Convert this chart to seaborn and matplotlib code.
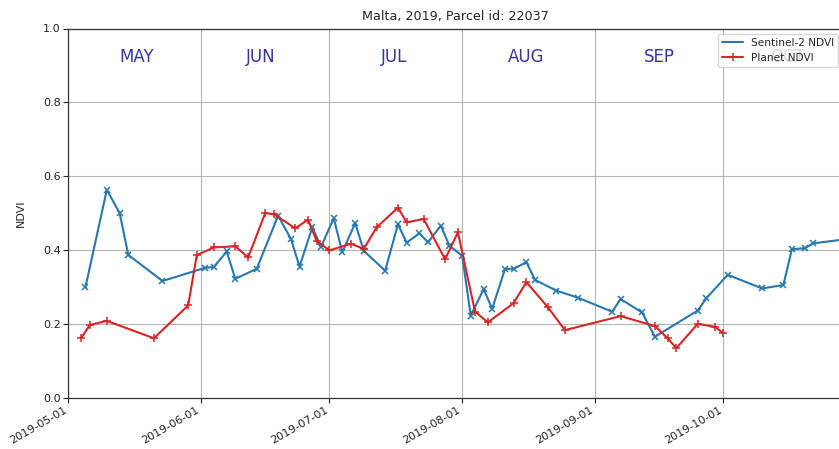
import matplotlib
matplotlib.use("Agg")
import matplotlib.pyplot as plt
import matplotlib.dates as mdates
import numpy as np
import pandas as pd
import seaborn as sns

# Sentinel-2 NDVI observations
s2_dates = [
    "2019-05-05", "2019-05-10", "2019-05-13", "2019-05-15", "2019-05-23",
    "2019-06-02", "2019-06-04", "2019-06-07", "2019-06-09", "2019-06-14",
    "2019-06-19", "2019-06-22", "2019-06-24", "2019-06-27", "2019-06-29",
    "2019-07-02", "2019-07-04", "2019-07-07", "2019-07-09", "2019-07-14",
    "2019-07-17", "2019-07-19", "2019-07-22", "2019-07-24", "2019-07-27",
    "2019-07-29", "2019-08-01", "2019-08-03", "2019-08-06", "2019-08-08",
    "2019-08-11", "2019-08-13", "2019-08-16", "2019-08-18", "2019-08-23",
    "2019-08-28", "2019-09-05", "2019-09-07", "2019-09-12", "2019-09-15",
    "2019-09-25", "2019-09-27", "2019-10-02", "2019-10-10", "2019-10-15",
    "2019-10-17", "2019-10-20", "2019-10-22", "2019-10-30",
]
s2_ndvi = [
    0.299, 0.563, 0.500, 0.387, 0.316,
    0.352, 0.354, 0.396, 0.322, 0.349,
    0.493, 0.430, 0.355, 0.462, 0.408,
    0.486, 0.394, 0.473, 0.398, 0.344,
    0.470, 0.420, 0.445, 0.421, 0.466,
    0.412, 0.384, 0.222, 0.294, 0.241,
    0.349, 0.349, 0.367, 0.319, 0.290,
    0.271, 0.233, 0.267, 0.231, 0.165,
    0.236, 0.269, 0.333, 0.296, 0.305,
    0.402, 0.405, 0.418, 0.430,
]

# Planet NDVI observations
pl_dates = [
    "2019-05-04", "2019-05-06", "2019-05-10", "2019-05-21", "2019-05-29",
    "2019-05-31", "2019-06-04", "2019-06-09", "2019-06-12", "2019-06-16",
    "2019-06-18", "2019-06-23", "2019-06-26", "2019-06-28", "2019-07-01",
    "2019-07-06", "2019-07-09", "2019-07-12", "2019-07-17", "2019-07-19",
    "2019-07-23", "2019-07-28", "2019-07-31", "2019-08-04", "2019-08-07",
    "2019-08-13", "2019-08-16", "2019-08-21", "2019-08-25", "2019-09-07",
    "2019-09-15", "2019-09-18", "2019-09-20", "2019-09-25", "2019-09-29",
    "2019-10-01",
]
pl_ndvi = [
    0.161, 0.197, 0.208, 0.161, 0.250,
    0.386, 0.407, 0.410, 0.380, 0.500,
    0.497, 0.459, 0.482, 0.425, 0.399,
    0.417, 0.403, 0.461, 0.515, 0.475,
    0.484, 0.375, 0.448, 0.233, 0.204,
    0.256, 0.313, 0.245, 0.183, 0.221,
    0.194, 0.161, 0.134, 0.200, 0.192,
    0.175,
]

month_names = ["MAY", "JUN", "JUL", "AUG", "SEP", "OCT"]
month_label_dates = ["2019-05-17", "2019-06-15", "2019-07-16", "2019-08-16",
                     "2019-09-16", "2019-10-16"]
tick_dates = ["2019-05-01", "2019-06-01", "2019-07-01", "2019-08-01",
              "2019-09-01", "2019-10-01"]
y_ticks = [0.0, 0.2, 0.4, 0.6, 0.8, 1.0]

sns.set_theme(style="ticks", rc={"axes.grid": True})
plt.rcParams["font.family"] = ["DejaVu Sans"]

s2 = pd.DataFrame({"date": pd.to_datetime(s2_dates), "ndvi": s2_ndvi})
pl = pd.DataFrame({"date": pd.to_datetime(pl_dates), "ndvi": pl_ndvi})

fig = plt.figure(figsize=(8.39, 4.49), dpi=100)
ax_w = (842 - 68.3) / 839
ax = fig.add_axes([68.3 / 839, 1 - 397.7 / 449, ax_w, (397.7 - 28.5) / 449])

blue = "#2878b0"
red = "#d82424"
sns.lineplot(data=s2, x="date", y="ndvi", ax=ax, color=blue, lw=1.5,
             marker="x", markersize=5, markeredgecolor=blue,
             markeredgewidth=1.1, label="Sentinel-2 NDVI")
sns.lineplot(data=pl, x="date", y="ndvi", ax=ax, color=red, lw=1.5,
             marker="+", markersize=6, markeredgecolor=red,
             markeredgewidth=1.1, label="Planet NDVI")

x0 = pd.Timestamp("2019-05-01")
ax.set_xlim(x0, x0 + pd.Timedelta(days=180.7))
ax.set_ylim(0, 1)
ax.set_xticks(pd.to_datetime(tick_dates))
ax.xaxis.set_major_formatter(mdates.DateFormatter("%Y-%m-%d"))
ax.set_yticks(y_ticks)
ax.set_yticklabels([f"{v:.1f}" for v in y_ticks])
ax.tick_params(axis="both", labelsize=8, length=3.5, width=0.8,
               colors="#222222", pad=2)
plt.setp(ax.get_xticklabels(), rotation=30, ha="right")

ax.grid(True, color="#b4b4b4", lw=0.8)
for side in ["left", "bottom", "top"]:
    ax.spines[side].set_color("#333333")
    ax.spines[side].set_linewidth(0.9)
ax.spines["right"].set_visible(False)

for name, d in zip(month_names, month_label_dates):
    ax.text(pd.Timestamp(d), 0.922, name, color="darkblue", alpha=0.8,
            fontsize=12, ha="center", va="center", zorder=1)

ax.set_xlabel("")
ax.set_ylabel("NDVI", fontsize=8, labelpad=12)
ax.set_title("Malta, 2019, Parcel id: 22037", fontsize=9.2, pad=6)

# legend anchored by its upper-left corner
ax_px = ax_w * 839
leg = ax.legend(loc="upper left", fontsize=7.6, framealpha=0.8,
                bbox_to_anchor=((718 - 68.3) / ax_px, 1 - 5 / 369.2),
                borderaxespad=0.0, handlelength=2.0, handletextpad=0.7)
leg.set_zorder(5)
leg.legend_handles[0].set_marker("")

fig.savefig("out.png", dpi=100)
